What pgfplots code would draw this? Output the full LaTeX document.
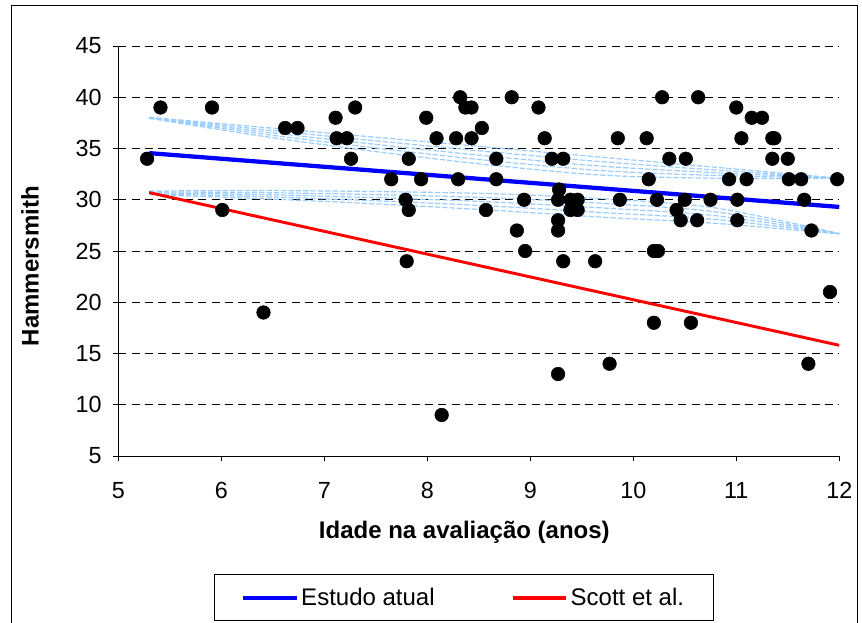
\documentclass[border=0pt]{standalone}
\usepackage{pgfplots}
\pgfplotsset{compat=1.18}
\usepackage{fontspec}
\setmainfont{Liberation Sans}
\definecolor{fitblue}{RGB}{0,0,255}
\definecolor{fitred}{RGB}{255,0,0}
\definecolor{bandblue}{RGB}{153,204,255}

\pgfplotstableread{
x y
5.28 34
5.41 39
5.91 39
6.01 29
6.41 19
6.62 37
6.74 37
7.11 38
7.12 36
7.22 36
7.26 34
7.30 39
7.65 32
7.79 30
7.80 24
7.82 34
7.82 29
7.94 32
7.99 38
8.09 36
8.14 9
8.28 36
8.30 32
8.32 40
8.37 39
8.43 39
8.43 36
8.53 37
8.57 29
8.67 34
8.67 32
8.82 40
8.87 27
8.94 30
8.95 25
9.08 39
9.14 36
9.21 34
9.27 30
9.27 28
9.27 27
9.27 13
9.28 31
9.32 34
9.32 24
9.39 30
9.39 29
9.46 30
9.46 29
9.63 24
9.77 14
9.85 36
9.87 30
10.13 36
10.15 32
10.20 25
10.20 18
10.24 25
10.23 30
10.28 40
10.35 34
10.42 29
10.46 28
10.50 30
10.51 34
10.56 18
10.62 28
10.63 40
10.75 30
10.93 32
11.00 39
11.01 30
11.01 28
11.05 36
11.10 32
11.15 38
11.25 38
11.35 36
11.37 36
11.35 34
11.50 34
11.51 32
11.63 32
11.66 30
11.70 14
11.73 27
11.91 21
11.98 32
}\pontos

\begin{document}
\begin{tikzpicture}
\path[use as bounding box] (0,0) rectangle (646.5pt,466.5pt);
\draw[line width=0.75pt] (8.25pt,-30pt) rectangle (643pt,462pt);
\begin{axis}[
    at={(88.7pt,124.5pt)}, anchor=south west,
    scale only axis,
    width=540.75pt, height=307.5pt,
    xmin=5, xmax=12, ymin=5, ymax=45,
    xtick={5,6,...,12}, ytick={5,10,...,45},
    axis x line*=bottom, axis y line*=left,
    axis line style={-, line width=0.75pt, black},
    tick align=outside, major tick length=4pt,
    tick style={line width=0.75pt, black},
    ymajorgrids,
    major grid style={black, line width=0.75pt, dash pattern=on 6pt off 4pt},
    tick label style={font=\fontsize{17.5}{20}\selectfont},
    xticklabel style={yshift=-12pt},
    yticklabel style={xshift=-5pt},
    /pgf/number format/assume math mode=true,
    xlabel={\bfseries Idade na avaliação (anos)},
    ylabel={\bfseries Hammersmith},
    label style={font=\fontsize{18}{21}\selectfont},
    xlabel style={at={(axis description cs:0.48,-0.187)}, anchor=center},
    ylabel style={at={(axis description cs:-0.1225,0.463)}, anchor=center},
    legend style={at={(axis description cs:0.4795,-0.288)}, anchor=north,
        draw=black, line width=0.75pt, legend columns=2,
        font=\fontsize{18}{21}\selectfont,
        inner xsep=20pt, inner ysep=8pt,
        /tikz/every even column/.append style={column sep=55pt}},
    legend image code/.code={\draw[#1, line width=3pt] (0pt,0pt) -- (40pt,0pt);},
]
% faixas de confianca (curvas tracejadas azul-claro)
\pgfplotsset{band/.style={bandblue, line width=0.9pt, dash pattern=on 4pt off 1.5pt, smooth, forget plot}}
\addplot[band] coordinates {(5.3,38.05) (6.4,37.07) (7.5,36.10) (8.6,35.12) (9.7,34.14) (10.8,33.17) (12,32.10)};
\addplot[band] coordinates {(5.3,38.03) (6.4,36.85) (7.5,35.75) (8.6,34.69) (9.7,33.71) (10.8,32.90) (12,32.10)};
\addplot[band] coordinates {(5.3,38.00) (6.4,36.64) (7.5,35.40) (8.6,34.26) (9.7,33.27) (10.8,32.64) (12,32.10)};
\addplot[band] coordinates {(5.3,37.98) (6.4,36.42) (7.5,35.05) (8.6,33.83) (9.7,32.84) (10.8,32.37) (12,32.10)};
\addplot[band] coordinates {(5.3,37.95) (6.4,36.20) (7.5,34.70) (8.6,33.40) (9.7,32.40) (10.8,32.10) (12,32.10)};
\addplot[band] coordinates {(5.3,30.85) (6.4,30.90) (7.5,30.80) (8.6,30.60) (9.7,30.10) (10.8,29.20) (12,26.70)};
\addplot[band] coordinates {(5.3,30.76) (6.4,30.70) (7.5,30.50) (8.6,30.20) (9.7,29.65) (10.8,28.82) (12,26.69)};
\addplot[band] coordinates {(5.3,30.68) (6.4,30.50) (7.5,30.20) (8.6,29.80) (9.7,29.20) (10.8,28.45) (12,26.68)};
\addplot[band] coordinates {(5.3,30.59) (6.4,30.30) (7.5,29.90) (8.6,29.40) (9.7,28.75) (10.8,28.08) (12,26.67)};
\addplot[band] coordinates {(5.3,30.50) (6.4,30.10) (7.5,29.60) (8.6,29.00) (9.7,28.30) (10.8,27.70) (12,26.66)};

% retas
\addplot[fitblue, line width=3.2pt] coordinates {(5.3,34.55) (12,29.30)};
\addlegendentry{Estudo atual}
\addplot[fitred, line width=2.2pt] coordinates {(5.3,30.70) (12,15.80)};
\addlegendentry{Scott et al.}

% pontos
\addplot[only marks, mark=*, mark size=5.1pt, black, forget plot] table[x=x, y=y] {\pontos};
\end{axis}
\end{tikzpicture}
\end{document}
